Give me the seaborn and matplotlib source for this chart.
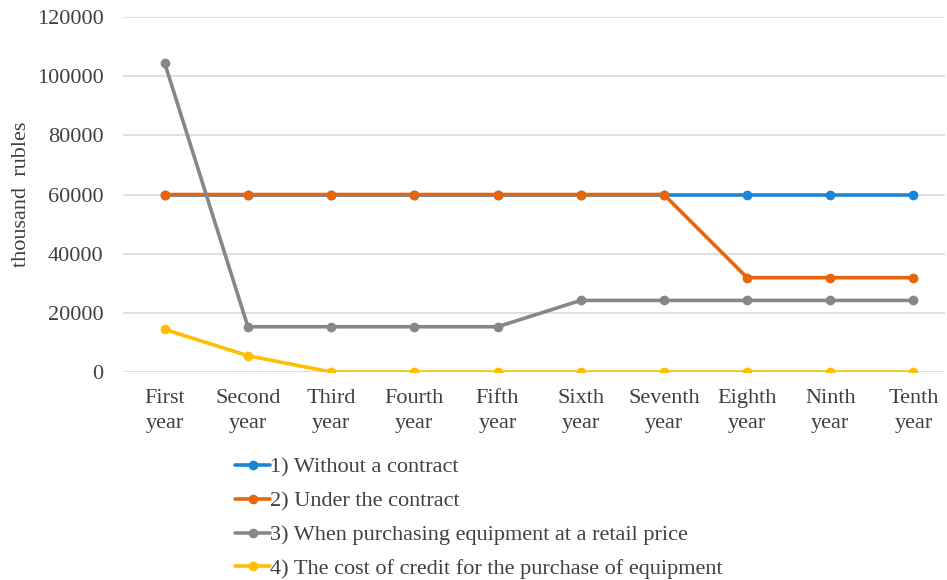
import matplotlib
matplotlib.use("Agg")
import matplotlib.pyplot as plt
import numpy as np
import pandas as pd
import seaborn as sns

years = ["First\nyear", "Second\nyear", "Third\nyear", "Fourth\nyear", "Fifth\nyear",
         "Sixth\nyear", "Seventh\nyear", "Eighth\nyear", "Ninth\nyear", "Tenth\nyear"]
without_contract = [60000, 60000, 60000, 60000, 60000, 60000, 60000, 60000, 60000, 60000]
under_contract = [60000, 60000, 60000, 60000, 60000, 60000, 60000, 31900, 31900, 31900]
retail_price = [104400, 15300, 15300, 15300, 15300, 24200, 24200, 24200, 24200, 24200]
credit_cost = [14400, 5500, 0, 0, 0, 0, 0, 0, 0, 0]
names = ["1) Without a contract", "2) Under the contract",
         "3) When purchasing equipment at a retail price",
         "4) The cost of credit for the purchase of equipment"]
colors = ["#1A85D6", "#E8650A", "#878787", "#FFBF00"]

sns.set_style("white")
plt.rcParams['font.family'] = ['Liberation Serif', 'DejaVu Serif']

fig = plt.figure(figsize=(9.47, 5.8), dpi=100)
ax = fig.add_axes([0.130, 0.3586, 0.868, 0.612])

x = np.arange(len(years))
for vals, name, c in zip([without_contract, under_contract, retail_price, credit_cost], names, colors):
    sns.lineplot(x=x, y=vals, ax=ax, color=c, marker="o", markersize=7,
                 markeredgewidth=0, linewidth=2.6, label=name)

ax.set_xlim(-0.5, 9.38)
ax.set_ylim(0, 120000)
ax.set_yticks(np.arange(0, 120001, 20000))
ax.set_xticks(x)
ax.set_xticklabels(years, fontsize=16, color="#404040", linespacing=1.45)
ax.tick_params(axis="y", labelsize=16, labelcolor="#404040", length=0, pad=14)
ax.tick_params(axis="x", length=0, pad=12)
ax.yaxis.grid(True, color="#D9D9D9", linewidth=1.2)
ax.set_axisbelow(True)
for s in ax.spines.values():
    s.set_visible(False)
ax.set_ylabel("thousand  rubles", fontsize=16, color="#404040", labelpad=4)
ax.set_xlabel("")

h, l = ax.get_legend_handles_labels()
ax.get_legend().remove()
fig.legend(h, l, loc="upper left", bbox_to_anchor=(0.248, 0.212), frameon=False,
           fontsize=16, handlelength=1.6, handletextpad=0.0, labelspacing=0.6,
           labelcolor="#404040", borderaxespad=0, borderpad=0)

fig.savefig("out.png", dpi=100)
